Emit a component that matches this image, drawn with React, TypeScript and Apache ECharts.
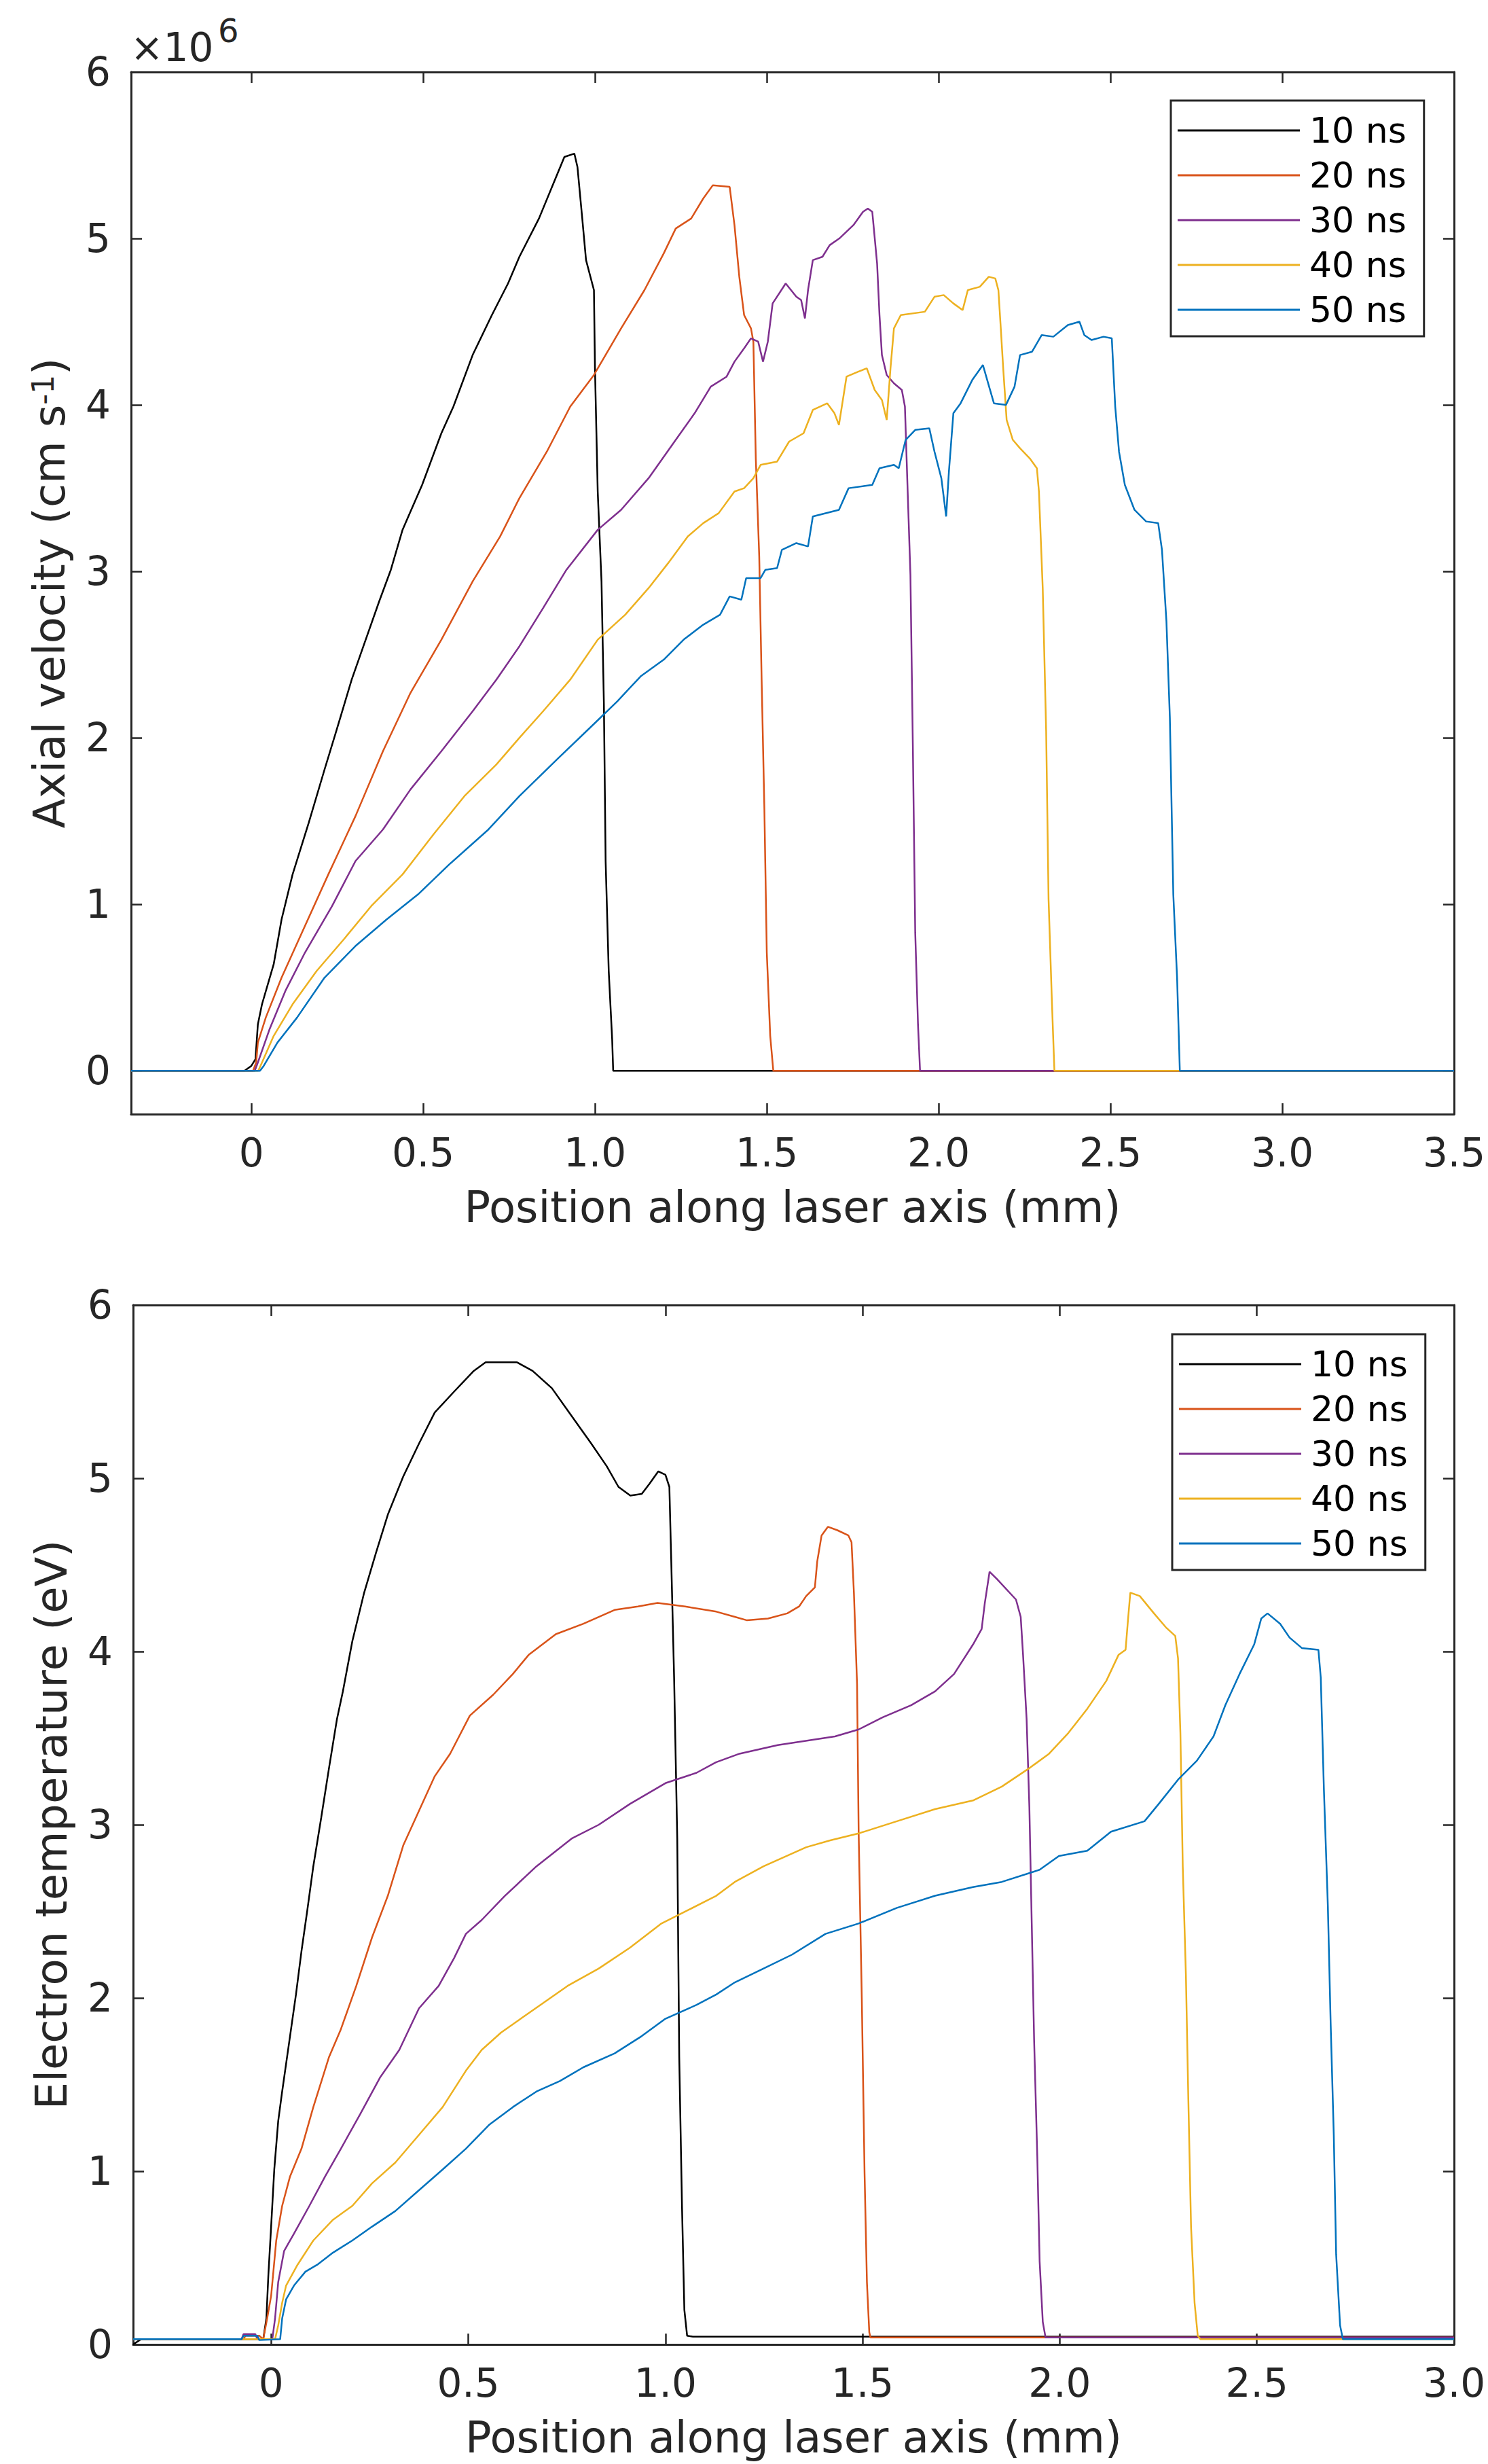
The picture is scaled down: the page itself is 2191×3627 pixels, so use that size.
import { useEffect, useRef } from "react";
import * as echarts from "echarts";

const W = 2191;
const H = 3627;
const FONT = "DejaVu Sans";
const AX = "#262626";

const seriesNames = ["10 ns", "20 ns", "30 ns", "40 ns", "50 ns"];
const seriesColors = ["#000000", "#D95319", "#7E2F8E", "#EDB120", "#0072BD"];

// Top panel: axial velocity (units of 10^6 cm s^-1) vs position (mm)
const vel10 = [[-0.35,0],[-0.02,0],[0.0,0.03],[0.012,0.07],[0.019,0.28],[0.031,0.40],[0.065,0.64],[0.088,0.91],[0.12,1.18],[0.167,1.49],[0.213,1.81],[0.247,2.04],[0.292,2.35],[0.326,2.55],[0.372,2.82],[0.406,3.01],[0.44,3.25],[0.497,3.52],[0.553,3.83],[0.588,3.99],[0.644,4.30],[0.70,4.54],[0.747,4.73],[0.78,4.89],[0.837,5.12],[0.883,5.35],[0.911,5.49],[0.94,5.51],[0.949,5.43],[0.963,5.12],[0.974,4.87],[0.997,4.69],[1.0,4.22],[1.008,3.48],[1.019,2.94],[1.026,2.20],[1.031,1.26],[1.04,0.60],[1.05,0.19],[1.053,0],[3.5,0]];
const vel20 = [[-0.35,0],[0.005,0],[0.014,0.05],[0.019,0.17],[0.042,0.32],[0.088,0.56],[0.156,0.87],[0.224,1.18],[0.303,1.53],[0.383,1.92],[0.463,2.27],[0.553,2.59],[0.644,2.94],[0.724,3.21],[0.78,3.44],[0.86,3.72],[0.928,3.99],[0.997,4.18],[1.076,4.46],[1.144,4.69],[1.2,4.91],[1.235,5.06],[1.28,5.12],[1.315,5.24],[1.343,5.32],[1.392,5.31],[1.406,5.08],[1.42,4.77],[1.434,4.54],[1.454,4.46],[1.461,4.38],[1.468,3.68],[1.478,3.09],[1.485,2.35],[1.493,1.57],[1.5,0.71],[1.51,0.21],[1.519,0],[3.5,0]];
const vel30 = [[-0.35,0],[0.01,0],[0.019,0.05],[0.053,0.25],[0.099,0.48],[0.156,0.71],[0.235,0.99],[0.303,1.26],[0.383,1.45],[0.463,1.69],[0.553,1.92],[0.644,2.16],[0.713,2.35],[0.78,2.55],[0.849,2.78],[0.917,3.01],[1.008,3.25],[1.076,3.37],[1.156,3.56],[1.235,3.79],[1.29,3.95],[1.337,4.11],[1.383,4.17],[1.406,4.26],[1.434,4.34],[1.454,4.40],[1.475,4.38],[1.489,4.26],[1.503,4.38],[1.517,4.61],[1.555,4.73],[1.586,4.65],[1.6,4.63],[1.611,4.52],[1.62,4.69],[1.634,4.87],[1.662,4.89],[1.683,4.96],[1.711,5.00],[1.752,5.08],[1.78,5.16],[1.794,5.18],[1.807,5.16],[1.821,4.85],[1.828,4.54],[1.835,4.30],[1.849,4.18],[1.87,4.13],[1.893,4.09],[1.902,3.99],[1.91,3.48],[1.918,2.98],[1.925,1.96],[1.932,0.83],[1.94,0.28],[1.946,0],[3.5,0]];
const vel40 = [[-0.35,0],[0.02,0],[0.031,0.05],[0.065,0.21],[0.12,0.40],[0.19,0.60],[0.269,0.79],[0.349,0.99],[0.44,1.18],[0.53,1.42],[0.62,1.65],[0.713,1.84],[0.78,2.00],[0.849,2.16],[0.928,2.35],[1.008,2.59],[1.088,2.74],[1.156,2.90],[1.213,3.05],[1.27,3.21],[1.315,3.29],[1.36,3.35],[1.406,3.48],[1.434,3.50],[1.461,3.56],[1.482,3.64],[1.53,3.66],[1.565,3.78],[1.607,3.83],[1.634,3.97],[1.676,4.01],[1.697,3.95],[1.71,3.88],[1.732,4.17],[1.766,4.20],[1.791,4.22],[1.814,4.09],[1.835,4.03],[1.849,3.91],[1.86,4.22],[1.87,4.46],[1.89,4.54],[1.96,4.56],[1.988,4.65],[2.015,4.66],[2.043,4.61],[2.07,4.57],[2.085,4.69],[2.12,4.71],[2.146,4.77],[2.165,4.76],[2.174,4.69],[2.181,4.46],[2.188,4.22],[2.198,3.91],[2.216,3.79],[2.237,3.74],[2.265,3.68],[2.286,3.62],[2.292,3.48],[2.303,2.90],[2.313,2.04],[2.32,1.03],[2.33,0.40],[2.337,0],[3.5,0]];
const vel50 = [[-0.35,0],[0.025,0],[0.036,0.03],[0.076,0.17],[0.133,0.32],[0.213,0.56],[0.303,0.75],[0.394,0.91],[0.485,1.06],[0.576,1.24],[0.69,1.45],[0.78,1.65],[0.894,1.88],[0.985,2.06],[1.065,2.22],[1.133,2.37],[1.2,2.47],[1.258,2.59],[1.315,2.68],[1.364,2.74],[1.392,2.85],[1.426,2.83],[1.44,2.96],[1.482,2.96],[1.496,3.01],[1.53,3.02],[1.544,3.13],[1.586,3.17],[1.62,3.15],[1.634,3.33],[1.71,3.37],[1.738,3.50],[1.807,3.52],[1.828,3.62],[1.87,3.64],[1.884,3.62],[1.904,3.79],[1.932,3.85],[1.973,3.86],[1.988,3.72],[2.008,3.56],[2.022,3.33],[2.03,3.60],[2.043,3.95],[2.064,4.01],[2.098,4.15],[2.129,4.24],[2.147,4.11],[2.161,4.01],[2.196,4.00],[2.221,4.11],[2.237,4.30],[2.272,4.32],[2.3,4.42],[2.334,4.41],[2.376,4.48],[2.41,4.50],[2.424,4.42],[2.445,4.39],[2.48,4.41],[2.504,4.40],[2.514,3.99],[2.525,3.72],[2.542,3.52],[2.57,3.37],[2.604,3.30],[2.639,3.29],[2.65,3.13],[2.663,2.70],[2.673,2.12],[2.683,1.06],[2.694,0.56],[2.702,0],[3.5,0]];

// Bottom panel: electron temperature (eV) vs position (mm)
const temp10 = [[-0.35,0.0],[-0.33,0.03],[-0.02,0.03],[-0.012,0.15],[-0.007,0.40],[0.0,0.68],[0.008,1.01],[0.018,1.29],[0.028,1.46],[0.038,1.62],[0.048,1.78],[0.063,2.02],[0.077,2.27],[0.092,2.51],[0.107,2.76],[0.127,3.04],[0.147,3.33],[0.167,3.61],[0.182,3.77],[0.206,4.06],[0.236,4.34],[0.266,4.57],[0.296,4.79],[0.335,5.01],[0.375,5.20],[0.415,5.38],[0.464,5.50],[0.514,5.62],[0.544,5.67],[0.623,5.67],[0.663,5.62],[0.712,5.52],[0.762,5.36],[0.812,5.20],[0.851,5.07],[0.881,4.95],[0.911,4.90],[0.94,4.91],[0.96,4.97],[0.982,5.04],[1.0,5.02],[1.01,4.95],[1.015,4.50],[1.022,3.85],[1.03,2.92],[1.035,1.66],[1.042,0.80],[1.048,0.20],[1.055,0.05],[1.07,0.045],[3.0,0.045]];
const temp20 = [[-0.35,0.03],[-0.07,0.03],[-0.065,0.05],[-0.03,0.05],[-0.02,0.03],[-0.01,0.15],[0.0,0.28],[0.013,0.60],[0.028,0.80],[0.048,0.97],[0.077,1.13],[0.107,1.37],[0.147,1.66],[0.177,1.82],[0.216,2.07],[0.256,2.35],[0.296,2.59],[0.335,2.88],[0.375,3.08],[0.415,3.28],[0.454,3.41],[0.504,3.63],[0.563,3.75],[0.613,3.87],[0.653,3.98],[0.722,4.10],[0.792,4.16],[0.871,4.24],[0.93,4.26],[0.98,4.28],[1.05,4.26],[1.129,4.23],[1.176,4.20],[1.207,4.18],[1.26,4.19],[1.309,4.22],[1.339,4.26],[1.357,4.32],[1.379,4.37],[1.385,4.52],[1.396,4.67],[1.412,4.72],[1.436,4.70],[1.464,4.67],[1.472,4.63],[1.478,4.34],[1.486,3.81],[1.49,2.96],[1.498,2.00],[1.505,0.99],[1.511,0.36],[1.517,0.07],[1.52,0.04],[3.0,0.04]];
const temp30 = [[-0.35,0.03],[-0.075,0.03],[-0.07,0.06],[-0.04,0.06],[-0.035,0.03],[0.003,0.03],[0.01,0.15],[0.018,0.36],[0.033,0.54],[0.058,0.64],[0.097,0.80],[0.137,0.97],[0.177,1.13],[0.226,1.33],[0.276,1.54],[0.325,1.70],[0.375,1.94],[0.425,2.07],[0.464,2.23],[0.494,2.37],[0.534,2.45],[0.593,2.59],[0.673,2.76],[0.762,2.92],[0.831,3.00],[0.91,3.12],[1.0,3.24],[1.079,3.30],[1.128,3.36],[1.188,3.41],[1.285,3.46],[1.43,3.51],[1.49,3.55],[1.551,3.62],[1.623,3.69],[1.684,3.77],[1.732,3.87],[1.78,4.04],[1.802,4.13],[1.81,4.28],[1.822,4.46],[1.84,4.42],[1.889,4.30],[1.901,4.20],[1.907,3.98],[1.916,3.61],[1.923,3.10],[1.929,2.43],[1.935,1.76],[1.943,1.09],[1.949,0.48],[1.957,0.13],[1.964,0.04],[3.0,0.04]];
const temp40 = [[-0.35,0.03],[0.01,0.03],[0.018,0.11],[0.028,0.24],[0.038,0.34],[0.067,0.46],[0.107,0.60],[0.157,0.72],[0.206,0.80],[0.256,0.93],[0.315,1.05],[0.375,1.21],[0.435,1.37],[0.494,1.58],[0.534,1.70],[0.583,1.80],[0.633,1.88],[0.683,1.96],[0.752,2.07],[0.831,2.17],[0.91,2.29],[0.99,2.43],[1.06,2.51],[1.129,2.59],[1.176,2.67],[1.249,2.76],[1.357,2.87],[1.418,2.91],[1.49,2.95],[1.587,3.02],[1.684,3.09],[1.78,3.14],[1.853,3.22],[1.925,3.33],[1.973,3.41],[2.022,3.53],[2.07,3.67],[2.118,3.83],[2.149,3.98],[2.167,4.01],[2.173,4.18],[2.179,4.34],[2.203,4.32],[2.239,4.22],[2.269,4.14],[2.293,4.09],[2.3,3.96],[2.306,3.53],[2.312,2.76],[2.32,2.13],[2.326,1.43],[2.333,0.68],[2.342,0.24],[2.35,0.05],[2.357,0.03],[3.0,0.03]];
const temp50 = [[-0.35,0.03],[-0.075,0.03],[-0.07,0.05],[-0.035,0.05],[-0.03,0.025],[0.023,0.03],[0.028,0.15],[0.038,0.26],[0.058,0.34],[0.087,0.42],[0.117,0.46],[0.157,0.53],[0.206,0.60],[0.256,0.68],[0.315,0.77],[0.375,0.89],[0.435,1.01],[0.494,1.13],[0.554,1.27],[0.613,1.37],[0.673,1.46],[0.732,1.52],[0.792,1.60],[0.871,1.68],[0.94,1.78],[1.0,1.88],[1.079,1.96],[1.129,2.02],[1.176,2.09],[1.249,2.17],[1.321,2.25],[1.406,2.37],[1.49,2.43],[1.587,2.52],[1.684,2.59],[1.78,2.64],[1.853,2.67],[1.949,2.74],[1.998,2.82],[2.07,2.85],[2.13,2.96],[2.215,3.02],[2.251,3.12],[2.3,3.26],[2.348,3.37],[2.39,3.51],[2.42,3.69],[2.456,3.87],[2.493,4.04],[2.511,4.19],[2.527,4.22],[2.559,4.16],[2.583,4.08],[2.614,4.02],[2.656,4.01],[2.662,3.85],[2.67,3.20],[2.68,2.53],[2.687,1.86],[2.695,1.21],[2.701,0.52],[2.711,0.11],[2.718,0.03],[3.0,0.03]];

const velSeries = [vel10, vel20, vel30, vel40, vel50];
const tempSeries = [temp10, temp20, temp30, temp40, temp50];

const xFmt = (v: number) => {
  if (Math.abs(v) < 1e-9) return "0";
  const r = Math.round(v * 2) / 2;
  if (Math.abs(r - v) > 1e-6) return "";
  return v.toFixed(1);
};
const yFmt = (v: number) => {
  const r = Math.round(v);
  if (Math.abs(r - v) > 1e-6) return "";
  return String(r);
};

const lineAx = { show: true, onZero: false, lineStyle: { color: AX, width: 3 } };
const tickAx = { show: true, inside: true, length: 16, lineStyle: { color: AX, width: 2.5 } };
const labelBase = { fontSize: 58, color: AX, fontFamily: FONT };

function makeXAxes(gridIndex: number, min: number, max: number, splitNumber: number) {
  const common: any = {
    type: "value", gridIndex, min, max, splitNumber,
    splitLine: { show: false }, axisLine: lineAx, axisTick: tickAx,
  };
  return [
    {
      ...common, position: "bottom",
      name: "Position along laser axis (mm)", nameLocation: "middle", nameGap: 105,
      nameMoveOverlap: false,
      nameTextStyle: { fontSize: 64, color: AX, fontFamily: FONT },
      axisLabel: { ...labelBase, show: true, margin: 28, showMinLabel: false, formatter: xFmt },
    },
    { ...common, position: "top", axisLabel: { show: false } },
  ];
}

function makeYAxes(gridIndex: number, min: number, max: number, extra: any, name: string, rich: any) {
  const common: any = {
    type: "value", gridIndex, min, max, ...extra,
    splitLine: { show: false }, axisLine: lineAx, axisTick: tickAx,
  };
  return [
    {
      ...common, position: "left",
      name, nameLocation: "middle", nameGap: 88, nameRotate: 90, nameMoveOverlap: false,
      nameTextStyle: { fontSize: 64, color: AX, fontFamily: FONT, ...(rich ? { rich } : {}) },
      axisLabel: { ...labelBase, show: true, margin: 30, formatter: yFmt },
    },
    { ...common, position: "right", axisLabel: { show: false } },
  ];
}

const legendBase = (left: number, top: number) => ({
  orient: "vertical", left, top, selectedMode: false,
  icon: "rect",
  padding: [18, 26, 13, 10], itemWidth: 180, itemHeight: 3, itemGap: 14,
  borderColor: AX, borderWidth: 3, backgroundColor: "#ffffff",
  textStyle: { fontSize: 52, lineHeight: 52, color: "#000000", fontFamily: FONT, padding: [0, 0, 0, 9] },
  data: seriesNames,
});

function buildOption() {
  const series: any[] = [];
  velSeries.forEach((d, i) => series.push({
    type: "line", name: seriesNames[i], xAxisIndex: 0, yAxisIndex: 0, data: d,
    symbol: "none", showSymbol: false, silent: true,
    lineStyle: { color: seriesColors[i], width: 2.5 }, itemStyle: { color: seriesColors[i] },
  }));
  tempSeries.forEach((d, i) => series.push({
    type: "line", name: seriesNames[i], xAxisIndex: 2, yAxisIndex: 2, data: d,
    symbol: "none", showSymbol: false, silent: true,
    lineStyle: { color: seriesColors[i], width: 2.5 }, itemStyle: { color: seriesColors[i] },
  }));

  const velRich = {
    t: { fontSize: 64, lineHeight: 64, color: AX, fontFamily: FONT, verticalAlign: "bottom" },
    s: { fontSize: 44, lineHeight: 44, color: AX, fontFamily: FONT, verticalAlign: "top", padding: [0, 0, 44, 0] },
  };

  return {
    animation: false,
    backgroundColor: "#ffffff",
    textStyle: { fontFamily: FONT },
    grid: [
      { left: 193, top: 106, width: 1948, height: 1534, outerBoundsMode: "none", containLabel: false },
      { left: 196, top: 1921, width: 1945, height: 1530, outerBoundsMode: "none", containLabel: false },
    ],
    xAxis: [...makeXAxes(0, -0.35, 3.5, 7), ...makeXAxes(1, -0.35, 3.0, 6)],
    yAxis: [
      ...makeYAxes(0, -0.26, 6, { splitNumber: 6 }, "{t|Axial velocity (cm s}{s|-1}{t|)}", velRich),
      ...makeYAxes(1, 0, 6, { interval: 1 }, "Electron temperature (eV)", null),
    ],
    legend: [legendBase(1724, 148), legendBase(1726, 1964)],
    graphic: [
      {
        type: "text", silent: true,
        style: { x: 192, y: 41, text: "×10", fontSize: 58, fontFamily: FONT, fill: AX, verticalAlign: "top", align: "left" },
      },
      {
        type: "text", silent: true,
        style: { x: 321, y: 21, text: "6", fontSize: 48, fontFamily: FONT, fill: AX, verticalAlign: "top", align: "left" },
      },
    ],
    series,
  };
}

export default function App() {
  const ref = useRef<HTMLDivElement>(null);
  useEffect(() => {
    document.body.style.margin = "0";
    const chart = echarts.init(ref.current as HTMLDivElement, null, { renderer: "svg", width: W, height: H });
    chart.setOption(buildOption() as any);
    return () => chart.dispose();
  }, []);
  return <div ref={ref} style={{ width: W, height: H }} />;
}
